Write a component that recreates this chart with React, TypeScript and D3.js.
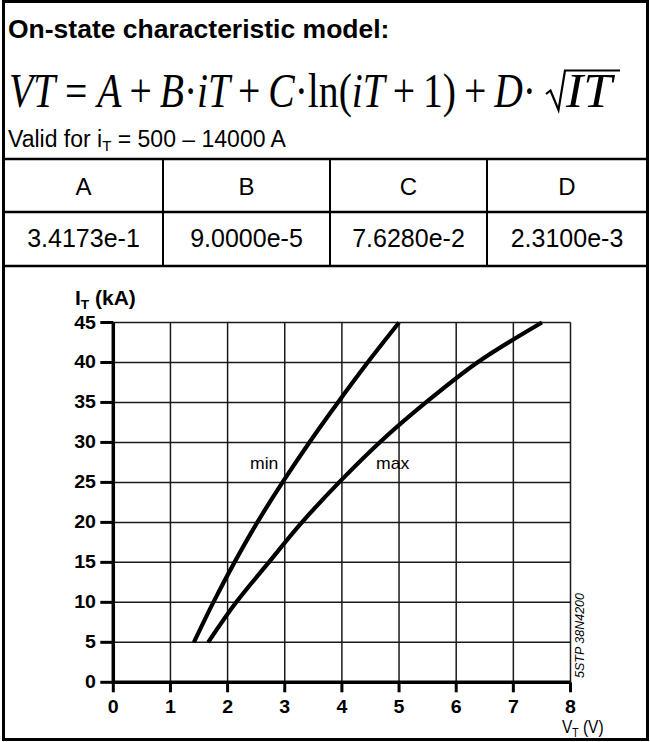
import React from 'react';
import * as d3 from 'd3';

// on-state curves
const currentKA = [5, 10, 15, 20, 25, 30, 35, 40, 45];
const voltMin = [1.41, 1.75, 2.12, 2.52, 2.96, 3.43, 3.93, 4.45, 5.0];
const voltMax = [1.66, 2.15, 2.72, 3.3, 3.95, 4.66, 5.47, 6.37, 7.5];

const coefNames = ['A', 'B', 'C', 'D'];
const coefValues = ['3.4173e-1', '9.0000e-5', '7.6280e-2', '2.3100e-3'];

const xTicks = [0, 1, 2, 3, 4, 5, 6, 7, 8];
const yTicks = [0, 5, 10, 15, 20, 25, 30, 35, 40, 45];

const W = 650;
const H = 742;
const SANS = '"Liberation Sans", Arial, sans-serif';
const SERIF = '"Liberation Serif", "Times New Roman", serif';
const colEdges = [4, 163, 330, 487, 647];
const rowLines = [159, 212, 266];
const thin = '\u2009';

function Txt(props: any) {
  const { x, y, size, sx = 1, anchor = 'start', weight = 'normal', family = SANS, italic, children } = props;
  return (
    <text
      transform={`translate(${x},${y}) scale(${sx},1)`}
      fontSize={size}
      fontFamily={family}
      fontWeight={weight}
      fontStyle={italic ? 'italic' : 'normal'}
      textAnchor={anchor}
      fill="#000"
    >
      {children}
    </text>
  );
}

export default function App() {
  const x = d3.scaleLinear().domain([0, 8]).range([113.3, 570.5]);
  const y = d3.scaleLinear().domain([0, 45]).range([682.3, 322.5]);

  const line = (volts: number[]) =>
    d3
      .line<number>()
      .x((d, i) => x(volts[i]))
      .y((d) => y(d))
      .curve(d3.curveCatmullRom.alpha(0.5))(currentKA) || '';

  const it = { fontStyle: 'italic' as const };

  return (
    <svg width={W} height={H} style={{ position: 'absolute', left: 0, top: 0, background: '#fff' }}>
      <rect x={0} y={0} width={W} height={H} fill="#fff" />

      {/* header text */}
      <Txt x={8} y={38} size={26.5} weight="bold">
        On-state characteristic model:
      </Txt>

      <text x={9} y={107} fontSize={48} fontFamily={SERIF} textLength={527} lengthAdjust="spacingAndGlyphs">
        <tspan style={it}>VT</tspan>
        <tspan> = </tspan>
        <tspan style={it}>A</tspan>
        <tspan>{thin}+{thin}</tspan>
        <tspan style={it}>B</tspan>
        <tspan>·</tspan>
        <tspan style={it}>iT</tspan>
        <tspan>{thin}+{thin}</tspan>
        <tspan style={it}>C</tspan>
        <tspan>·ln(</tspan>
        <tspan style={it}>iT</tspan>
        <tspan>{thin}+{thin}1){thin}+{thin}</tspan>
        <tspan style={it}>D</tspan>
        <tspan>·</tspan>
      </text>
      <path d="M546,94 L550.5,90.5 L558.5,110 L565,70.5 L620,70.5" fill="none" stroke="#000" strokeWidth={2.2} />
      <text x={566} y={107} fontSize={48} fontFamily={SERIF} fontStyle="italic" textLength={46} lengthAdjust="spacingAndGlyphs">
        IT
      </text>

      <Txt x={8} y={147} size={23}>
        Valid for i<tspan fontSize={15} dy={4}>T</tspan>
        <tspan dy={-4}> = 500 – 14000 A</tspan>
      </Txt>

      {/* coefficient table */}
      {rowLines.map((ry, i) => (
        <line key={i} x1={3} x2={647} y1={ry} y2={ry} stroke="#000" strokeWidth={2.5} />
      ))}
      {colEdges.slice(1, -1).map((cx, i) => (
        <line key={i} x1={cx} x2={cx} y1={rowLines[0]} y2={rowLines[2]} stroke="#000" strokeWidth={2} />
      ))}
      {coefNames.map((n, i) => (
        <Txt key={n} x={(colEdges[i] + colEdges[i + 1]) / 2} y={194.5} size={24} anchor="middle">
          {n}
        </Txt>
      ))}
      {coefValues.map((v, i) => (
        <Txt key={v} x={(colEdges[i] + colEdges[i + 1]) / 2} y={247} size={25} anchor="middle">
          {v}
        </Txt>
      ))}

      {/* grid */}
      {xTicks.slice(1).map((t) => (
        <line key={'gx' + t} x1={x(t)} x2={x(t)} y1={y(45)} y2={y(0)} stroke="#1a1a1a" strokeWidth={1.5} />
      ))}
      {yTicks.slice(1).map((t) => (
        <line key={'gy' + t} x1={x(0)} x2={x(8)} y1={y(t)} y2={y(t)} stroke="#1a1a1a" strokeWidth={1.5} />
      ))}

      {/* axes */}
      <line x1={x(0)} x2={x(0)} y1={y(0) + 1.5} y2={y(45)} stroke="#000" strokeWidth={3.5} />
      <line x1={x(0)} x2={x(8)} y1={y(0)} y2={y(0)} stroke="#000" strokeWidth={3.5} />
      {yTicks.map((t) => (
        <g key={'ty' + t}>
          <line x1={x(0) - 13} x2={x(0)} y1={y(t)} y2={y(t)} stroke="#000" strokeWidth={3} />
          <Txt x={96} y={y(t) + 6} size={17.5} weight="bold" anchor="end" sx={1.12}>
            {t}
          </Txt>
        </g>
      ))}
      {xTicks.map((t) => (
        <g key={'tx' + t}>
          <line x1={x(t)} x2={x(t)} y1={y(0)} y2={y(0) + 10} stroke="#000" strokeWidth={3} />
          <Txt x={x(t)} y={713} size={17.5} weight="bold" anchor="middle" sx={1.12}>
            {t}
          </Txt>
        </g>
      ))}

      <Txt x={75} y={305} size={20} weight="bold" sx={1.05}>
        I<tspan fontSize={13} dy={4}>T</tspan>
        <tspan dy={-4}> (kA)</tspan>
      </Txt>
      <Txt x={562} y={733} size={18} sx={0.86}>
        V<tspan fontSize={12} dy={4}>T</tspan>
        <tspan dy={-4}> (V)</tspan>
      </Txt>
      <text transform="translate(583.5,678) rotate(-90)" fontSize={12.5} fontFamily={SANS} fontStyle="italic">
        5STP 38N4200
      </text>

      {/* curves */}
      <path d={line(voltMin)} fill="none" stroke="#000" strokeWidth={4.2} />
      <path d={line(voltMax)} fill="none" stroke="#000" strokeWidth={4.2} />
      <Txt x={250} y={469} size={16} sx={1.1}>
        min
      </Txt>
      <Txt x={376} y={469} size={16} sx={1.1}>
        max
      </Txt>

      {/* outer frame */}
      <rect x={3.5} y={1.5} width={644} height={738} fill="none" stroke="#000" strokeWidth={3} />
    </svg>
  );
}
